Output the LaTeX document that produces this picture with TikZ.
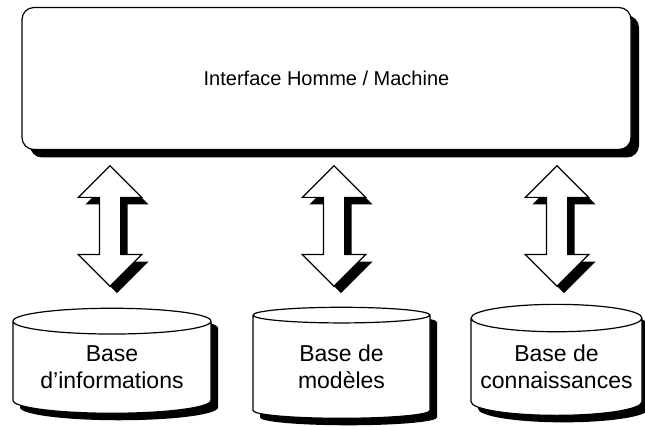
\documentclass[tikz,border=0pt]{standalone}
\usepackage{fontspec}
\setmainfont{Liberation Sans}
\usetikzlibrary{shapes.geometric,shapes.arrows,shadows}

\begin{document}
\begin{tikzpicture}[x=1pt, y=1pt,
			ombre/.style={drop shadow={shadow xshift=8pt, shadow yshift=-8pt, fill=black, opacity=1}},
			block/.style={rectangle, draw, line width=1.2pt, fill=white, rounded corners=12pt, minimum width=609pt, minimum height=142pt, font=\fontsize{20}{24}\selectfont, ombre},
			base/.style={cylinder, shape border rotate=90, aspect=0.18, draw, line width=1.2pt, fill=white, align=center, inner sep=0pt, font=\fontsize{23}{27}\selectfont, drop shadow={shadow xshift=7pt, shadow yshift=-7pt, fill=black, opacity=1}},
			fleche/.style={double arrow, rotate=90, draw, line width=1.2pt, fill=white, inner xsep=49pt, inner ysep=10pt, minimum size=0pt, double arrow head extend=21pt, drop shadow={shadow xshift=7pt, shadow yshift=-7pt, fill=black, opacity=1}}
		]
		\useasboundingbox (0,0) rectangle (645,426);
		% Nodes
		\node[block] (ihm) at (326.5,347.5) {Interface Homme / Machine};
		\node[base, minimum width=198pt, minimum height=105pt] (infos) at (112,58.5) {Base\\d’informations};
		\node[base, minimum width=177pt, minimum height=111pt] (modeles) at (341.5,59) {Base de\\modèles};
		\node[base, minimum width=171pt, minimum height=111pt] (connais) at (556.5,59) {Base de\\connaissances};
		% Arrows
		\node[fleche] (f1) at (110,200) {};
		\node[fleche] (f2) at (334,200) {};
		\node[fleche] (f3) at (557,200) {};
	\end{tikzpicture}
\end{document}
